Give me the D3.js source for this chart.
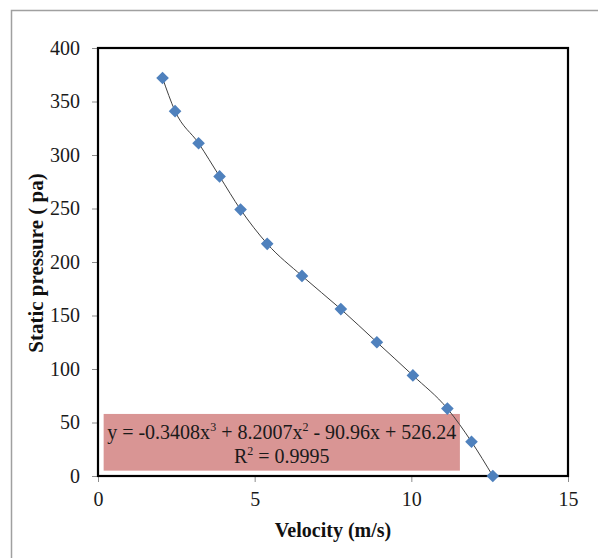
<!DOCTYPE html>
<html><head><meta charset="utf-8">
<script src="https://cdn.jsdelivr.net/npm/d3@7"></script>
<style>body{margin:0;background:#fff}svg{display:block}</style>
</head><body>
<svg id="c" width="598" height="558"></svg>
<script>
const velocity = [2.06, 2.46, 3.21, 3.88, 4.55, 5.40, 6.51, 7.75, 8.90, 10.05, 11.15, 11.92, 12.60];
const pressure = [372, 341, 311, 280, 249, 217, 187, 156, 125, 94, 63, 32, 0];
const xTicks = [0, 5, 10, 15];
const yTicks = [0, 50, 100, 150, 200, 250, 300, 350, 400];
const eqLine1 = ["y = -0.3408x", "3", " + 8.2007x", "2", " - 90.96x + 526.24"];
const eqLine2 = ["R", "2", " = 0.9995"];

const svg = d3.select("#c");
const L = 98, R = 568, T = 48, B = 476;
const x = d3.scaleLinear().domain([0, 15]).range([L, R]);
const y = d3.scaleLinear().domain([0, 400]).range([B, T]);
const serif = "'Liberation Serif','Times New Roman',serif";

// outer border
svg.append("rect").attr("x", 11.5).attr("y", 10.5).attr("width", 620).attr("height", 620)
  .attr("fill", "none").attr("stroke", "#a0a0a0").attr("stroke-width", 1.5);

// ticks
const gy = svg.append("g").attr("transform", `translate(${L},0)`)
  .call(d3.axisLeft(y).tickValues(yTicks).tickSize(6).tickPadding(12).tickFormat(d3.format("d")));
const gx = svg.append("g").attr("transform", `translate(0,${B})`)
  .call(d3.axisBottom(x).tickValues(xTicks).tickSize(6).tickPadding(10).tickFormat(d3.format("d")));
[gx, gy].forEach(g => {
  g.select(".domain").remove();
  g.selectAll(".tick line").attr("stroke", "#8c8c8c");
  g.selectAll(".tick text").attr("font-family", serif).attr("font-size", 20).attr("fill", "#1a1a1a");
});

// plot frame
svg.append("rect").attr("x", L).attr("y", T).attr("width", R - L).attr("height", B - T)
  .attr("fill", "none").attr("stroke", "#000").attr("stroke-width", 2.2);

// equation box
const bx = x(0.18), bx2 = x(11.55), by = y(58), by2 = y(5);
svg.append("rect").attr("x", bx).attr("y", by).attr("width", bx2 - bx).attr("height", by2 - by)
  .attr("fill", "#d99594");

const cx = (bx + bx2) / 2;
function eq(parts, yy) {
  const t = svg.append("text").attr("x", cx).attr("y", yy).attr("text-anchor", "middle")
    .attr("font-family", serif).attr("font-size", 20).attr("fill", "#1a1a1a");
  parts.forEach((p, i) => {
    const s = t.append("tspan").text(p);
    if (i % 2 === 1) s.attr("font-size", 12).attr("dy", -8);
    else if (i > 0) s.attr("dy", 8);
  });
}
eq(eqLine1, 439);
eq(eqLine2, 463);

// trendline
const pts = velocity.map((v, i) => [v, pressure[i]]);
svg.append("path").datum(pts)
  .attr("d", d3.line().x(d => x(d[0])).y(d => y(d[1])).curve(d3.curveMonotoneX))
  .attr("fill", "none").attr("stroke", "#404040").attr("stroke-width", 1);

// markers
svg.append("g").selectAll("path").data(pts).join("path")
  .attr("d", d3.symbol().type(d3.symbolSquare).size(80))
  .attr("transform", d => `translate(${x(d[0])},${y(d[1])}) rotate(45)`)
  .attr("fill", "#4f81bd");

// axis titles
svg.append("text").attr("x", 333).attr("y", 537).attr("text-anchor", "middle")
  .attr("font-family", serif).attr("font-weight", "bold").attr("font-size", 20)
  .attr("fill", "#111").text("Velocity (m/s)");
svg.append("text").attr("transform", "translate(43,263) rotate(-90)").attr("text-anchor", "middle")
  .attr("font-family", serif).attr("font-weight", "bold").attr("font-size", 21)
  .attr("fill", "#111").text("Static pressure ( pa)");
</script>
</body></html>
